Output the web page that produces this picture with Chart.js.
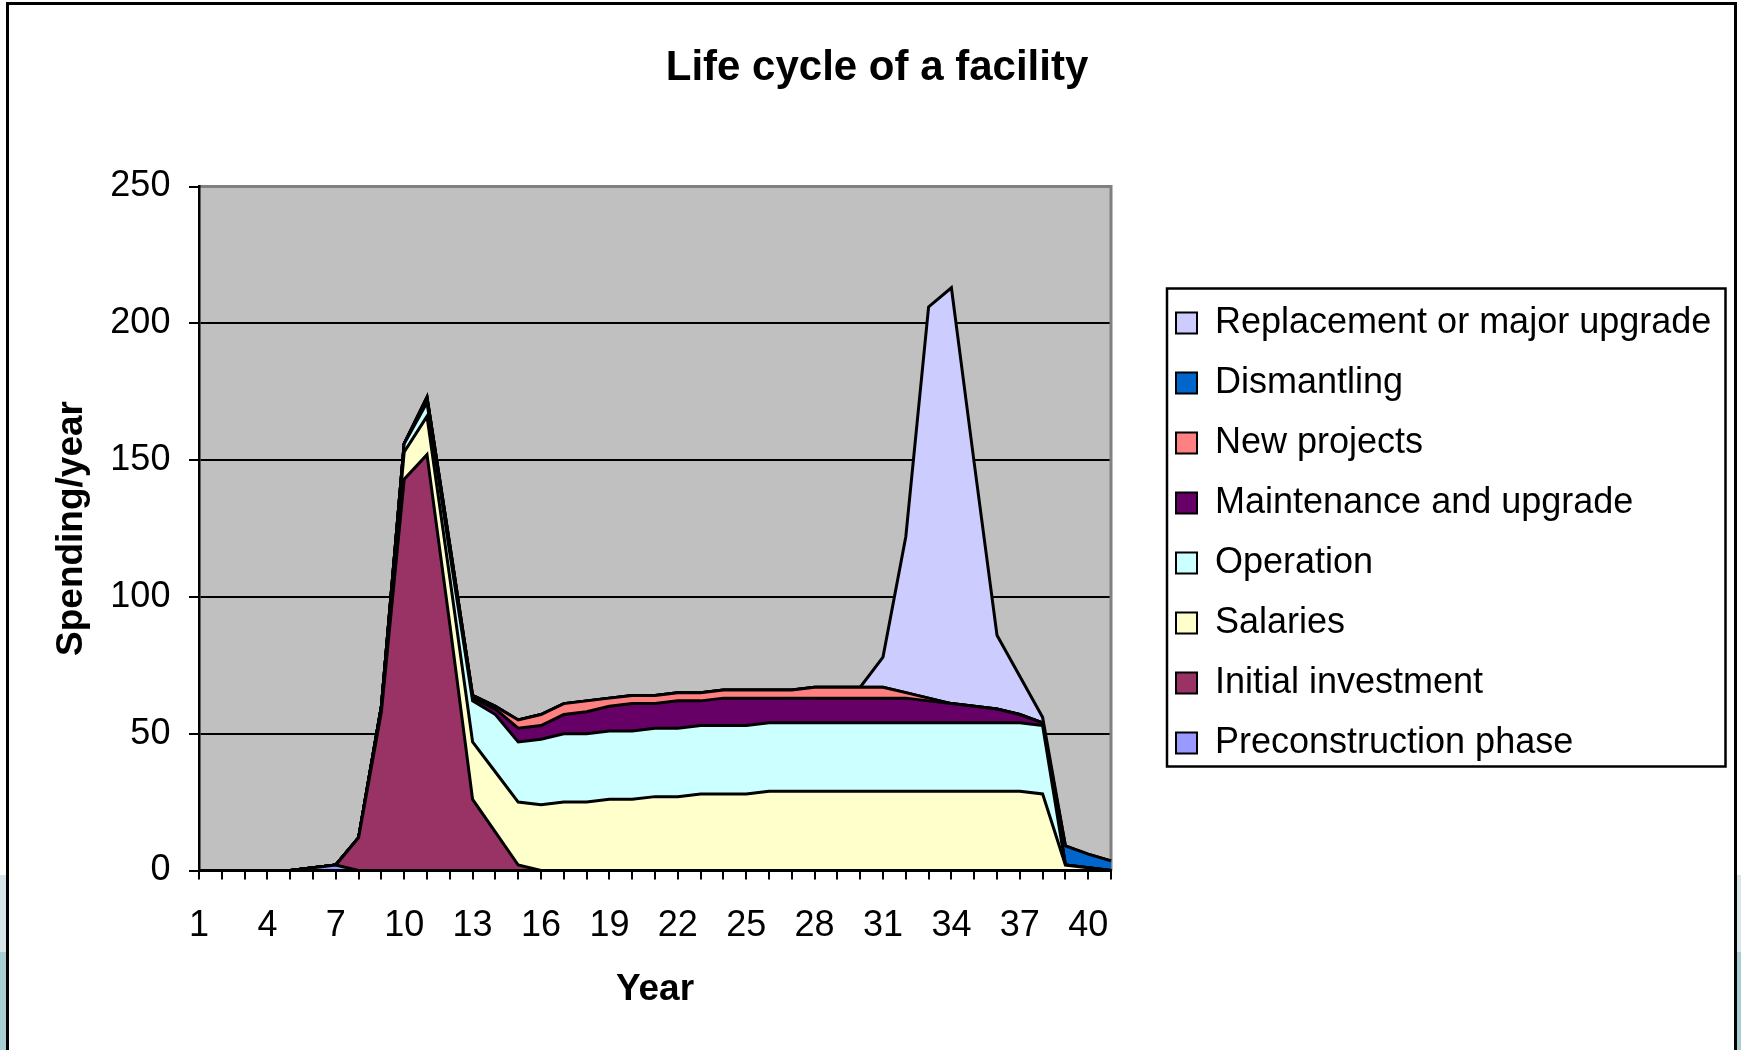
<!DOCTYPE html>
<html lang="en">
<head>
    <meta charset="UTF-8">
    <title>Life cycle of a facility</title>
    <style>
        html, body {
            margin: 0;
            padding: 0;
        }

        body {
            width: 1741px;
            height: 1050px;
            overflow: hidden;
            position: relative;
            font-family: 'Liberation Sans', Arial, sans-serif;
            /* slide background peeking out at the sides */
            background: linear-gradient(to bottom, #fff 0px, #fff 875px, #d7e5e9 875px, #d7e5e9 952px, #a9ced2 952px);
        }

        .frame {
            position: absolute;
            left: 6px;
            top: 2px;
            width: 1725px;
            height: 1100px;
            border: 3px solid #000;
            background-color: #fff;
        }

        .chart-box {
            position: absolute;
            left: 0;
            top: 0;
            width: 1741px;
            height: 1050px;
        }
    </style>
</head>
<body>

    <div class="frame"></div>
    <div class="chart-box">
        <canvas id="lifeCycleChart"></canvas>
    </div>

    <script src="https://cdn.jsdelivr.net/npm/chart.js"></script>

    <script>
        // Year categories (only every third one gets a label)
        const years = ['1', '2', '3', '4', '5', '6', '7', '8', '9', '10',
                       '11', '12', '13', '14', '15', '16', '17', '18', '19', '20',
                       '21', '22', '23', '24', '25', '26', '27', '28', '29', '30',
                       '31', '32', '33', '34', '35', '36', '37', '38', '39', '40', '41'];

        // Spending per year, stacked from bottom to top
        const preconstruction   = [0, 0, 0, 0, 0, 1, 2, 0, 0, 0,
                                   0, 0, 0, 0, 0, 0, 0, 0, 0, 0,
                                   0, 0, 0, 0, 0, 0, 0, 0, 0, 0,
                                   0, 0, 0, 0, 0, 0, 0, 0, 0, 0, 0];
        const initialInvestment = [0, 0, 0, 0, 0, 0, 0, 12, 58, 143,
                                   152, 90, 26, 14, 2, 0, 0, 0, 0, 0,
                                   0, 0, 0, 0, 0, 0, 0, 0, 0, 0,
                                   0, 0, 0, 0, 0, 0, 0, 0, 0, 0, 0];
        const salaries          = [0, 0, 0, 0, 0, 0, 0, 0, 2, 10,
                                   14, 17, 21, 22, 23, 24, 25, 25, 26, 26,
                                   27, 27, 28, 28, 28, 29, 29, 29, 29, 29,
                                   29, 29, 29, 29, 29, 29, 29, 28, 2, 1, 0];
        const operation         = [0, 0, 0, 0, 0, 0, 0, 0, 0, 3,
                                   5, 9, 15, 21, 22, 24, 25, 25, 25, 25,
                                   25, 25, 25, 25, 25, 25, 25, 25, 25, 25,
                                   25, 25, 25, 25, 25, 25, 25, 25, 0, 0, 0];
        const maintenance       = [0, 0, 0, 0, 0, 0, 0, 0, 0, 0,
                                   1, 2, 1, 2, 5, 5, 7, 8, 9, 10,
                                   9, 10, 9, 10, 10, 9, 9, 9, 9, 9,
                                   9, 9, 8, 7, 6, 5, 3, 1, 0, 0, 0];
        const newProjects       = [0, 0, 0, 0, 0, 0, 0, 0, 0, 0,
                                   1, 1, 1, 1, 3, 4, 4, 4, 3, 3,
                                   3, 3, 3, 3, 3, 3, 3, 4, 4, 4,
                                   4, 2, 1, 0, 0, 0, 0, 0, 0, 0, 0];
        const dismantling       = [0, 0, 0, 0, 0, 0, 0, 0, 0, 0,
                                   0, 0, 0, 0, 0, 0, 0, 0, 0, 0,
                                   0, 0, 0, 0, 0, 0, 0, 0, 0, 0,
                                   0, 0, 0, 0, 0, 0, 0, 0, 7, 5, 3.5];
        const replacement       = [0, 0, 0, 0, 0, 0, 0, 0, 0, 0,
                                   0, 0, 0, 0, 0, 0, 0, 0, 0, 0,
                                   0, 0, 0, 0, 0, 0, 0, 0, 0, 0,
                                   11, 57, 143, 152, 89, 27, 14, 2, 0, 0, 0];

        const seriesNames = ['Preconstruction phase', 'Initial investment', 'Salaries', 'Operation',
                             'Maintenance and upgrade', 'New projects', 'Dismantling', 'Replacement or major upgrade'];
        const seriesData = [preconstruction, initialInvestment, salaries, operation,
                            maintenance, newProjects, dismantling, replacement];
        const seriesColors = ['#9999FF', '#993366', '#FFFFCC', '#CCFFFF',
                              '#660066', '#FF8080', '#0066CC', '#CCCCFF'];

        Chart.defaults.font.family = "'Liberation Sans', Arial, sans-serif";
        Chart.defaults.color = '#000';

        // grey plot area, its grey top/right edge, and the framed legend box
        const plotFrame = {
            id: 'plotFrame',
            beforeDraw(chart) {
                const {ctx, chartArea: a} = chart;
                ctx.save();
                ctx.fillStyle = '#C0C0C0';
                ctx.fillRect(a.left, a.top, a.right - a.left, a.bottom - a.top);
                ctx.restore();
            },
            beforeDatasetsDraw(chart) {
                const {ctx, chartArea: a} = chart;
                ctx.save();
                ctx.strokeStyle = '#808080';
                ctx.lineWidth = 3;
                ctx.beginPath();
                ctx.moveTo(a.left, a.top);
                ctx.lineTo(a.right, a.top);
                ctx.lineTo(a.right, a.bottom);
                ctx.stroke();
                ctx.restore();
            },
            afterDraw(chart) {
                const lg = chart.legend;
                if (!lg) return;
                const n = chart.data.datasets.length;
                const step = 36 + 24;
                const startY = (lg.top + 24 + lg.bottom - n * step) / 2;
                const ctx = chart.ctx;
                ctx.save();
                ctx.strokeStyle = '#000';
                ctx.lineWidth = 2.5;
                ctx.strokeRect(lg.left + 15, startY - 12, 558.5, 478);
                ctx.restore();
            }
        };

        const ctx = document.getElementById('lifeCycleChart').getContext('2d');
        const chart = new Chart(ctx, {
            type: 'line',
            data: {
                labels: years,
                datasets: seriesData.map((data, i) => ({
                    label: seriesNames[i],
                    data: data,
                    backgroundColor: seriesColors[i],
                    borderColor: '#000',
                    borderWidth: 3,
                    fill: i === 0 ? 'origin' : '-1',
                    pointRadius: 0,
                    pointHoverRadius: 0,
                    tension: 0
                }))
            },
            options: {
                responsive: true,
                maintainAspectRatio: false,
                animation: false,
                devicePixelRatio: 1,
                layout: {
                    padding: {left: 37, right: 24, top: 0, bottom: 0}
                },
                plugins: {
                    title: {
                        display: true,
                        text: 'Life cycle of a facility',
                        color: '#000',
                        font: {size: 42, weight: 'bold'},
                        padding: {top: 42.8, bottom: 93.3}
                    },
                    legend: {
                        position: 'right',
                        fullSize: false,
                        reverse: true,
                        align: 'center',
                        maxWidth: 565,
                        // empty title only nudges the entries down a little
                        title: {display: true, text: '', font: {size: 7.5}, padding: 0},
                        labels: {
                            boxWidth: 21,
                            boxHeight: 21,
                            padding: 24,
                            color: '#000',
                            font: {size: 36},
                            generateLabels(chart) {
                                const items = Chart.defaults.plugins.legend.labels.generateLabels(chart);
                                items.forEach(item => { item.lineWidth = 2; });
                                return items;
                            }
                        }
                    },
                    tooltip: {enabled: false}
                },
                scales: {
                    x: {
                        ticks: {
                            autoSkip: false,
                            maxRotation: 0,
                            color: '#000',
                            font: {size: 36},
                            padding: 24.6,
                            callback: function(value, index) {
                                return index % 3 === 0 ? this.getLabelForValue(value) : '';
                            }
                        },
                        grid: {
                            display: true,
                            drawOnChartArea: false,
                            drawTicks: true,
                            tickLength: 9,
                            color: '#000',
                            lineWidth: 2
                        },
                        border: {display: true, color: '#000', width: 3, z: 1},
                        title: {
                            display: true,
                            text: 'Year',
                            color: '#000',
                            font: {size: 37, weight: 'bold'},
                            padding: {top: 0, bottom: 38}
                        },
                        afterFit(axis) { axis.height = 179.5; }
                    },
                    y: {
                        stacked: true,
                        min: 0,
                        max: 250,
                        ticks: {
                            stepSize: 50,
                            color: '#000',
                            font: {size: 36},
                            padding: 18.6
                        },
                        grid: {
                            color: '#000',
                            lineWidth: 2,
                            drawTicks: true,
                            tickLength: 10
                        },
                        border: {display: true, color: '#000', width: 2.5, z: 1},
                        title: {
                            display: true,
                            text: 'Spending/year',
                            color: '#000',
                            font: {size: 37, weight: 'bold'},
                            padding: {top: 13, bottom: 0}
                        },
                        afterFit(axis) { axis.width = 162; }
                    },
                    // empty spacer between the plot and the legend
                    spacer: {
                        type: 'linear',
                        position: 'right',
                        display: true,
                        grid: {display: false, drawTicks: false},
                        border: {display: false},
                        ticks: {display: false},
                        afterFit(axis) { axis.width = 41; }
                    }
                }
            },
            plugins: [plotFrame]
        });
    </script>
</body>
</html>
